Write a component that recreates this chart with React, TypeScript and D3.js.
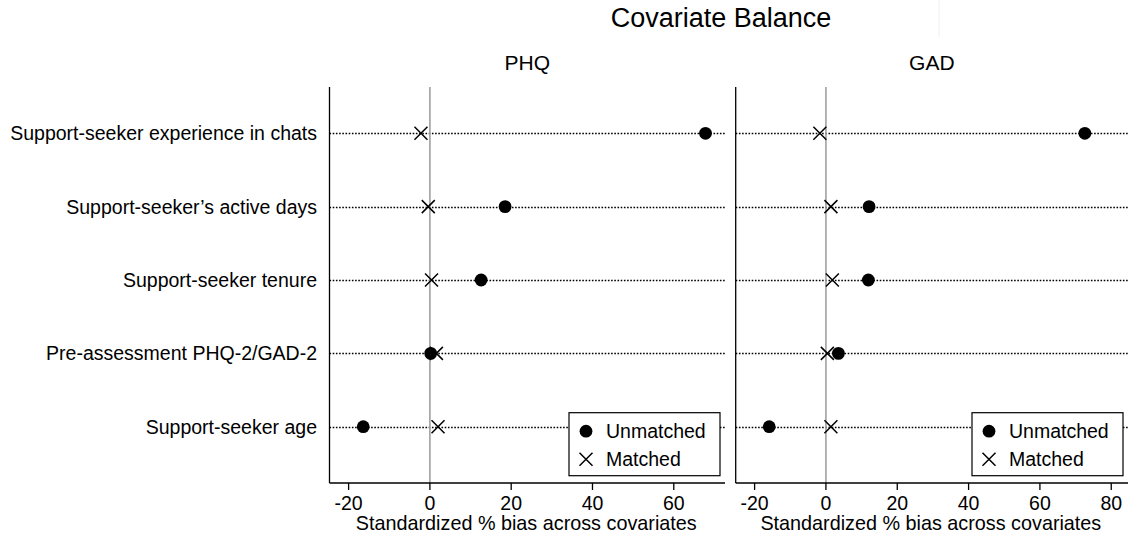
import * as d3 from 'd3';

const covariates = [
  'Support-seeker experience in chats',
  'Support-seeker\u2019s active days',
  'Support-seeker tenure',
  'Pre-assessment PHQ-2/GAD-2',
  'Support-seeker age',
];

const phqUnmatched = [67.8, 18.5, 12.6, 0.2, -16.4];
const phqMatched = [-2.2, -0.4, 0.4, 1.6, 2.0];
const gadUnmatched = [72.6, 12.1, 11.9, 3.5, -15.9];
const gadMatched = [-1.7, 1.4, 1.8, 0.4, 1.4];

const phqTicks = [-20, 0, 20, 40, 60];
const gadTicks = [-20, 0, 20, 40, 60, 80];

const legendLabels = ['Unmatched', 'Matched'];

const WIDTH = 1130;
const HEIGHT = 539;
const TOP = 87;
const AXIS_Y = 483;
const FONT = '"Liberation Sans", Arial, Helvetica, sans-serif';

const yScale = d3.scalePoint<string>().domain(covariates).range([133.3, 426.7]);

type PanelProps = {
  title: string;
  unmatched: number[];
  matched: number[];
  ticks: number[];
  domain: [number, number];
  range: [number, number];
};

function Cross({ x, y }: { x: number; y: number }) {
  const s = 6.5;
  return (
    <path
      d={`M${x - s},${y - s}L${x + s},${y + s}M${x - s},${y + s}L${x + s},${y - s}`}
      stroke='#000'
      strokeWidth={1.5}
      fill='none'
    />
  );
}

function Panel({ title, unmatched, matched, ticks, domain, range }: PanelProps) {
  const x = d3.scaleLinear().domain(domain).range(range);
  const [x0, x1] = range;
  const legendRight = x1 - 5;
  const legendLeft = legendRight - 151;
  const legendTop = 412.7;

  return (
    <g>
      <text
        x={(x0 + x1) / 2}
        y={70}
        textAnchor='middle'
        fontSize={21}
        fontFamily={FONT}
      >
        {title}
      </text>
      {covariates.map((c) => (
        <line
          key={c}
          x1={x0}
          x2={x1}
          y1={Math.round(yScale(c)!) + 0.5}
          y2={Math.round(yScale(c)!) + 0.5}
          stroke='#000'
          strokeWidth={1.6}
          strokeDasharray='1.6,1.6'
        />
      ))}
      <line x1={x(0)} x2={x(0)} y1={TOP} y2={AXIS_Y} stroke='#a0a0a0' strokeWidth={1.6} />
      <line x1={x0} x2={x0} y1={TOP} y2={AXIS_Y} stroke='#000' strokeWidth={1.3} />
      <line x1={x0} x2={x1} y1={AXIS_Y} y2={AXIS_Y} stroke='#000' strokeWidth={1.3} />
      {ticks.map((t) => (
        <g key={t}>
          <line x1={x(t)} x2={x(t)} y1={AXIS_Y} y2={AXIS_Y + 7} stroke='#000' strokeWidth={1.3} />
          <text x={x(t)} y={510} textAnchor='middle' fontSize={19.5} fontFamily={FONT}>
            {t}
          </text>
        </g>
      ))}
      <text
        x={(x0 + x1) / 2 - 1}
        y={530}
        textAnchor='middle'
        fontSize={19.8}
        fontFamily={FONT}
      >
        Standardized % bias across covariates
      </text>
      {covariates.map((c, i) => (
        <Cross key={c} x={x(matched[i])} y={yScale(c)!} />
      ))}
      {covariates.map((c, i) => (
        <circle key={c} cx={x(unmatched[i])} cy={yScale(c)} r={6.4} fill='#000' />
      ))}
      <rect
        x={legendLeft}
        y={legendTop}
        width={151}
        height={63}
        fill='#fff'
        stroke='#000'
        strokeWidth={1.2}
      />
      <circle cx={legendLeft + 17} cy={legendTop + 18.5} r={6.4} fill='#000' />
      <Cross x={legendLeft + 17} y={legendTop + 46.5} />
      {legendLabels.map((l, i) => (
        <text
          key={l}
          x={legendLeft + 37}
          y={legendTop + 25.6 + i * 27.7}
          fontSize={19.5}
          fontFamily={FONT}
        >
          {l}
        </text>
      ))}
    </g>
  );
}

export default function App() {
  return (
    <svg
      width={WIDTH}
      height={HEIGHT}
      style={{ position: 'absolute', left: 0, top: 0, background: '#fff' }}
    >
      <rect width={WIDTH} height={HEIGHT} fill='#fff' />
      <line x1={939} x2={939} y1={0} y2={37} stroke='#f0f0f0' strokeWidth={1} />
      <text x={721} y={27} textAnchor='middle' fontSize={27} fontFamily={FONT}>
        Covariate Balance
      </text>
      {covariates.map((c) => (
        <text
          key={c}
          x={317}
          y={yScale(c)}
          dy='0.36em'
          textAnchor='end'
          fontSize={19.5}
          fontFamily={FONT}
        >
          {c}
        </text>
      ))}
      <Panel
        title='PHQ'
        unmatched={phqUnmatched}
        matched={phqMatched}
        ticks={phqTicks}
        domain={[-24.7, 72.6]}
        range={[329.5, 725]}
      />
      <Panel
        title='GAD'
        unmatched={gadUnmatched}
        matched={gadMatched}
        ticks={gadTicks}
        domain={[-25.3, 84.7]}
        range={[735.7, 1128]}
      />
    </svg>
  );
}
